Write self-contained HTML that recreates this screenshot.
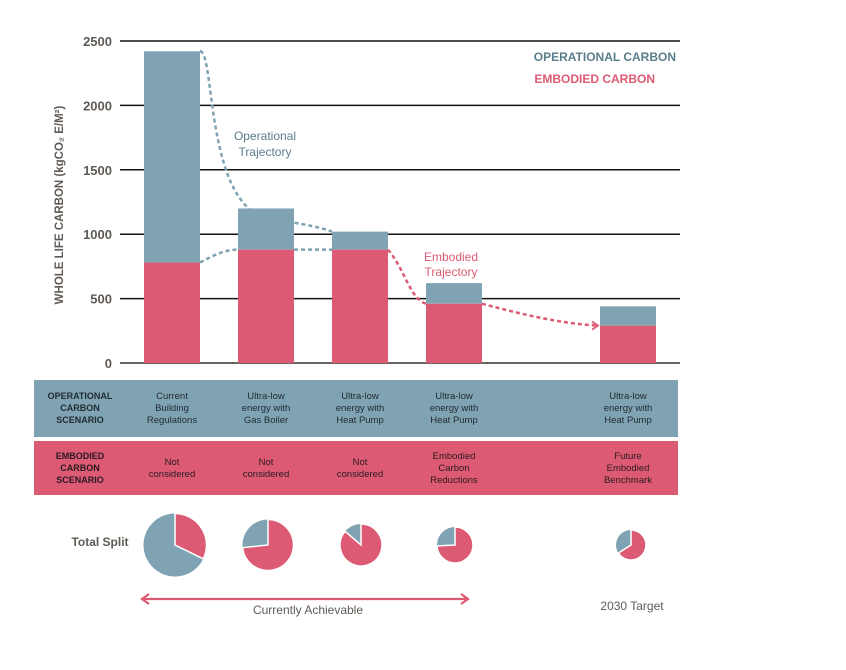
<!DOCTYPE html>
<html><head><meta charset="utf-8"><style>
body{margin:0;background:#fff;font-family:"Liberation Sans",sans-serif}
svg text{font-family:"Liberation Sans",sans-serif}
</style></head><body>
<svg id="c" width="846" height="665" viewBox="0 0 846 665"></svg>
<script>
const categories=["Current Building Regulations","Ultra-low Gas Boiler","Ultra-low Heat Pump","Embodied Reductions","2030 Target"];
const totalValues=[2420,1200,1020,620,440];
const embodiedValues=[780,880,880,460,290];
const yTicks=[0,500,1000,1500,2000,2500];
const barX=[144,238,332,426,600];
const pieR=[31.5,25.5,21,18,15];
const pieCX=[175,268,361,455,631];
const opLines=[["Current","Building","Regulations"],["Ultra-low","energy with","Gas Boiler"],["Ultra-low","energy with","Heat Pump"],["Ultra-low","energy with","Heat Pump"],["Ultra-low","energy with","Heat Pump"]];
const emLines=[["Not","considered"],["Not","considered"],["Not","considered"],["Embodied","Carbon","Reductions"],["Future","Embodied","Benchmark"]];
const BLUE="#7fa3b3",RED="#dd5a74",DBLUE="#5a7d8c",GREY="#5f5a55";
const svg=document.getElementById('c');const NS="http://www.w3.org/2000/svg";
function el(t,a,p){const e=document.createElementNS(NS,t);for(const k in a)e.setAttribute(k,a[k]);(p||svg).appendChild(e);return e;}
const y=v=>363-v*322/2500;
const BW=56;
yTicks.forEach(t=>{
 const l=el('line',{x1:120,x2:680,y1:y(t),y2:y(t),stroke:t===0?"#6b6661":"#111","stroke-width":t===0?2:1.5});
 
 const tx=el('text',{x:112,y:y(t)+5,"text-anchor":"end","font-size":13,"font-weight":"bold",fill:GREY});tx.textContent=t;
 
});
const yt=el('text',{transform:"translate(63,205) rotate(-90)","text-anchor":"middle","font-size":11.5,"font-weight":"bold",fill:GREY});
yt.textContent="WHOLE LIFE CARBON (kgCO₂ E/M²)";

categories.forEach((c,i)=>{
 const x=barX[i];
 const ob=el('rect',{x:x,y:y(totalValues[i]),width:BW,height:y(embodiedValues[i])-y(totalValues[i]),fill:BLUE});
 
 const eb=el('rect',{x:x,y:y(embodiedValues[i]),width:BW,height:y(0)-y(embodiedValues[i]),fill:RED});
 
});
const d="stroke-dasharray";
const t1=el('path',{d:`M${barX[0]+BW},${y(totalValues[0])} C215,${y(totalValues[0])} 205,${y(totalValues[1])-10} 265,${y(totalValues[1])+10} C290,${y(totalValues[2])-10} 320,${y(totalValues[2])-5} 332,${y(totalValues[2])}`,fill:"none",stroke:BLUE,"stroke-width":2.5,[d]:"4 3"});

const t2=el('path',{d:`M${barX[0]+BW},${y(embodiedValues[0])} C215,${y(embodiedValues[0])-8} 225,${y(embodiedValues[1])} 238,${y(embodiedValues[1])} M${barX[1]+BW},${y(embodiedValues[1])} L${barX[2]},${y(embodiedValues[2])}`,fill:"none",stroke:BLUE,"stroke-width":2.5,[d]:"4 3"});

const t3=el('path',{d:`M${barX[2]+BW},${y(embodiedValues[2])} C405,${y(embodiedValues[2])+20} 410,${y(embodiedValues[3])-5} 426,${y(embodiedValues[3])} M${barX[3]+BW},${y(embodiedValues[3])} C520,${y(embodiedValues[3])+10} 560,${y(embodiedValues[4])-2} 598,${y(embodiedValues[4])}`,fill:"none",stroke:RED,"stroke-width":2.5,[d]:"4 3"});

const ah=el('path',{d:`M592,${y(embodiedValues[4])-4} L598,${y(embodiedValues[4])} L592,${y(embodiedValues[4])+4}`,fill:"none",stroke:RED,"stroke-width":1.8});

function lbl(txt,x,yy,fs,fill,anchor,name,bold){const e=el('text',{x:x,y:yy,"font-size":fs,fill:fill,"text-anchor":anchor||"middle","font-weight":bold?"bold":"normal"});e.textContent=txt;return e;}
lbl("Operational",265,140,12,DBLUE,"middle","operational-trajectory-label");
lbl("Trajectory",265,156,12,DBLUE,"middle","operational-trajectory-label-2");
lbl("Embodied",451,261,12,RED,"middle","embodied-trajectory-label");
lbl("Trajectory",451,276,12,RED,"middle","embodied-trajectory-label-2");
lbl("OPERATIONAL CARBON",676,61,12,DBLUE,"end","legend-operational",true);
lbl("EMBODIED CARBON",655,83,12,RED,"end","legend-embodied",true);
const b1=el('rect',{x:34,y:380,width:644,height:57,fill:BLUE});
const b2=el('rect',{x:34,y:441,width:644,height:54,fill:RED});
["OPERATIONAL","CARBON","SCENARIO"].forEach((s,k)=>lbl(s,80,399+k*12,9,"#1f2a30","middle","operational-scenario-title",true));
["EMBODIED","CARBON","SCENARIO"].forEach((s,k)=>lbl(s,80,459+k*12,9,"#2a1a1e","middle","embodied-scenario-title",true));
categories.forEach((c,i)=>{
 const cx=barX[i]+BW/2;
 opLines[i].forEach((s,k)=>lbl(s,cx,399+k*12,9.5,"#1f2a30","middle","operational-scenario-"+i));
 const n=emLines[i].length, y0=n===2?465:459;
 emLines[i].forEach((s,k)=>lbl(s,cx,y0+k*12,9.5,"#2a1a1e","middle","embodied-scenario-"+i));
 const r=pieR[i],px=pieCX[i],py=545;
 const ef=embodiedValues[i]/totalValues[i];
 const g=el('g',{});
 el('circle',{cx:px,cy:py,r:r,fill:BLUE},g);
 const a=ef*2*Math.PI;const ex=px+r*Math.sin(a),ey=py-r*Math.cos(a);
 el('path',{d:`M${px},${py} L${px},${py-r} A${r},${r} 0 ${ef>0.5?1:0} 1 ${ex},${ey} Z`,fill:RED,stroke:"#fff","stroke-width":1.5},g);
});
lbl("Total Split",100,546,12,GREY,"middle","total-split-label",true);
const ar=el('path',{d:"M143,599 L467,599 M149,594 L142,599 L149,604 M461,594 L468,599 L461,604",stroke:RED,"stroke-width":2.2,fill:"none"});

lbl("Currently Achievable",308,614,12,GREY,"middle","currently-achievable-label");
lbl("2030 Target",632,610,12,GREY,"middle","target-2030-label");
</script>
</body></html>
